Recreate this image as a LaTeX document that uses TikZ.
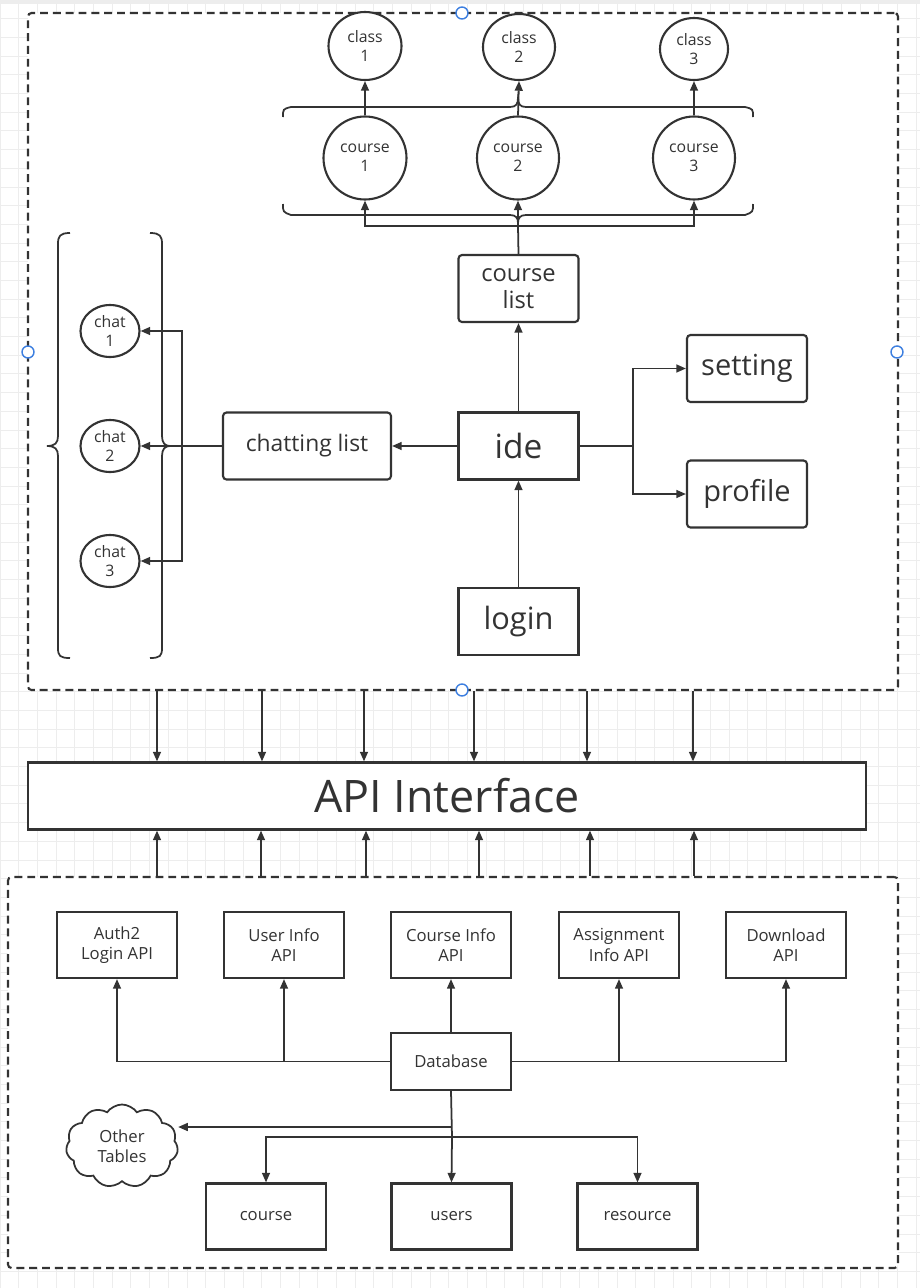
\documentclass[tikz,border=0pt]{standalone}
\usepackage{fontspec}
\setmainfont{Open Sans}
\usetikzlibrary{arrows.meta,shapes.geometric,shapes.symbols}
\definecolor{ink}{HTML}{333333}
\definecolor{gridc}{HTML}{EDEDED}
\definecolor{handle}{HTML}{3D7FE0}
\newcommand{\pu}{0.02cm}
\newcommand{\fs}[2]{\fontsize{#1}{#2}\selectfont}

\begin{document}
\begin{tikzpicture}[x=\pu, y=-\pu,
    every node/.style={text=ink, align=center, inner sep=0pt},
    line/.style={draw=ink, line width=1pt},
    arr/.style={line, -{Triangle[length=5.5pt,width=4.5pt]}},
    sbox/.style={draw=ink, fill=white, line width=1.2pt, minimum width=120*\pu, minimum height=67*\pu},
    rbox/.style={sbox, rounded corners=2pt},
    dbox/.style={draw=ink, line width=1.2pt, dash pattern=on 4.5pt off 2.8pt,
                 rounded corners=2pt, fill=white},
    oval/.style={ellipse, draw=ink, fill=white, line width=1.2pt, font=\fs{9}{11}},
    handlept/.style={circle, draw=handle, fill=white, line width=0.8pt, minimum size=12*\pu}]
    \useasboundingbox (0,0) rectangle (920,1288);
    \draw[gridc, line width=0.5pt, step=0.374cm] (0,1288) grid (920,0);
    \fill[gridc] (0,0) rectangle (920,4);

    \node[dbox, minimum width=870*\pu, minimum height=677*\pu] (front) at (463,351.5) {};
    \node[dbox, minimum width=890*\pu, minimum height=391*\pu] (back) at (453,1072.5) {};

    % courses and classes
    \node[oval, minimum width=73*\pu, minimum height=68*\pu] (k1) at (365,46) {class\\1};
    \node[oval, minimum width=72*\pu, minimum height=66*\pu] (k2) at (519,47) {class\\2};
    \node[oval, minimum width=68*\pu, minimum height=62*\pu] (k3) at (694,49) {class\\3};
    \node[oval, minimum width=83*\pu, minimum height=83*\pu] (c1) at (365,158) {course\\1};
    \node[oval, minimum width=82*\pu, minimum height=83*\pu] (c2) at (518,158) {course\\2};
    \node[oval, minimum width=82*\pu, minimum height=83*\pu] (c3) at (694,158) {course\\3};
    \draw[line] (283,117) .. controls (283,109) .. (291,107) -- (510,107)
        .. controls (516,107) and (518,104) .. (518,98)
        .. controls (518,104) and (520,107) .. (526,107) -- (745,107)
        .. controls (753,109) .. (753,117);
    \draw[line] (283,204) .. controls (283,212) .. (291,215) -- (510,215)
        .. controls (516,215) and (518,218) .. (518,223)
        .. controls (518,218) and (520,215) .. (526,215) -- (745,215)
        .. controls (753,212) .. (753,204);

    \node[rbox, font=\fs{13.5}{15.5}] (clist) at (518.5,288.5) {course\\list};
    \node[sbox, font=\fs{19}{22}] (ide) at (518.5,446) {ide};
    \node[sbox, font=\fs{17.5}{20}] (login) at (518.5,621.5) {login};
    \node[rbox, font=\fs{16.5}{19}] (set) at (747,368.5) {setting};
    \node[rbox, font=\fs{16.5}{19}] (prof) at (747,494) {profile};
    \node[rbox, minimum width=168*\pu, font=\fs{13}{15}] (chat) at (307,446) {chatting list};

    % chats
    \node[oval, minimum width=59*\pu, minimum height=52*\pu] (t1) at (110,331) {chat\\1};
    \node[oval, minimum width=59*\pu, minimum height=52*\pu] (t2) at (110,446) {chat\\2};
    \node[oval, minimum width=59*\pu, minimum height=52*\pu] (t3) at (110,561) {chat\\3};
    \draw[line] (70,233) .. controls (60,233) and (58,236) .. (58,244) -- (58,436)
        .. controls (58,443) and (55,446) .. (47,446)
        .. controls (55,446) and (58,449) .. (58,456) -- (58,648)
        .. controls (58,656) and (60,658) .. (70,658);
    \draw[line] (150,233) .. controls (160,233) and (162,236) .. (162,244) -- (162,436)
        .. controls (162,443) and (165,446) .. (170,446)
        .. controls (165,446) and (162,449) .. (162,456) -- (162,648)
        .. controls (162,656) and (160,658) .. (150,658);

    \coordinate (fork) at (518,226);
    \draw[line] (clist.north) -- (fork);
    \draw[arr] (fork) -- (c2.south);
    \draw[arr] (fork) -| (c1.south);
    \draw[arr] (fork) -| (c3.south);
    \draw[arr] (c1.north) -- (k1.south);
    \draw[arr] (c2.north) -- (k2.south);
    \draw[arr] (c3.north) -- (k3.south);
    \draw[arr] (login.north) -- (ide.south);
    \draw[arr] (ide.north) -- (clist.south);
    \coordinate (rb) at (633,446);
    \draw[line] (ide.east) -- (rb);
    \draw[arr] (rb) |- (set.west);
    \draw[arr] (rb) |- (prof.west);
    \draw[arr] (ide.west) -- (chat.east);
    \draw[arr] (chat.west) -- (t2.east);
    \coordinate (cb) at (182,446);
    \draw[arr] (cb) |- (t1.east);
    \draw[arr] (cb) |- (t3.east);

    \node[sbox, minimum width=838*\pu, minimum height=67*\pu, font=\fs{25.5}{28}] (api) at (447,796) {API Interface};
    \foreach \x in {157,262,364,474,587,693}
        \draw[arr] (front.south -| \x,0) -- (api.north -| \x,0);
    \foreach \x in {157,261,366,479,590,694}
        \draw[arr] (back.north -| \x,0) -- (api.south -| \x,0);

    % apis and tables
    \tikzstyle{small}=[sbox, minimum height=66*\pu, font=\fs{9.5}{11.5}]
    \node[small] (a1) at (117,945) {Auth2\\Login API};
    \node[small] (a2) at (284,945) {User Info\\API};
    \node[small] (a3) at (451,945) {Course Info\\API};
    \node[small] (a4) at (619,945) {Assignment\\Info API};
    \node[small] (a5) at (786,945) {Download\\API};
    \node[small, minimum height=57*\pu] (db) at (451,1061.5) {Database};
    \node[small] (tc) at (266,1216.5) {course};
    \node[small] (tu) at (451.5,1216.5) {users};
    \node[small] (tr) at (637.5,1216.5) {resource};
    \node[cloud, cloud puffs=11, cloud puff arc=110, aspect=1.3, draw=ink, line width=1pt,
          minimum width=112*\pu, minimum height=83*\pu, font=\fs{9.5}{11.5}] (other) at (122,1146) {Other\\Tables};

    \draw[arr] (db.west) -| (a1.south);
    \draw[arr] (db.west) -| (a2.south);
    \draw[arr] (db.north) -- (a3.south);
    \draw[arr] (db.east) -| (a4.south);
    \draw[arr] (db.east) -| (a5.south);
    \coordinate (dbs) at (452,1127);
    \coordinate (dbt) at (452,1137);
    \draw[line] (db.south) -- (dbt);
    \draw[arr] (dbs) -- (178,1127 -| other.east);
    \draw[arr] (dbt) -| (tc.north);
    \draw[arr] (dbt) -- (tu.north);
    \draw[arr] (dbt) -| (tr.north);

    \node[handlept] (h1) at (462,13) {};
    \node[handlept] (h2) at (28,352) {};
    \node[handlept] (h3) at (897,352) {};
    \node[handlept] (h4) at (462,690) {};
\end{tikzpicture}
\end{document}
